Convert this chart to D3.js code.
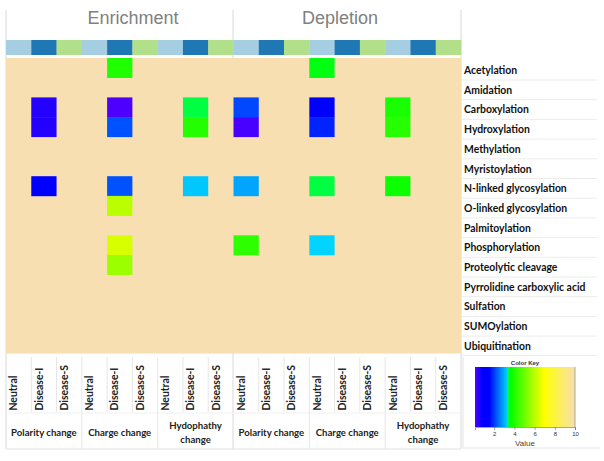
<!DOCTYPE html>
<html><head><meta charset="utf-8">
<script src="https://cdn.jsdelivr.net/npm/d3@7"></script>
<style>body{margin:0;background:#fff}svg{display:block}</style>
</head><body>
<script>
const groups = ["Enrichment", "Depletion"];
const changes = ["Polarity change", "Charge change", "Hydophathy change"];
const classes = ["Neutral", "Disease-I", "Disease-S"];
const ptms = ["Acetylation","Amidation","Carboxylation","Hydroxylation","Methylation","Myristoylation",
  "N-linked glycosylation","O-linked glycosylation","Palmitoylation","Phosphorylation",
  "Proteolytic cleavage","Pyrrolidine carboxylic acid","Sulfation","SUMOylation","Ubiquitination"];
// columns: Polarity(N,DI,DS), Charge(N,DI,DS), Hydropathy(N,DI,DS); null = no value
const enrichment = [
  [null,null,null, null,4.0,null, null,null,null],
  [null,null,null, null,null,null, null,null,null],
  [null,0.5,null, null,0.15,null, null,3.4,null],
  [null,0.5,null, null,2.2,null, null,4.05,null],
  [null,null,null, null,null,null, null,null,null],
  [null,null,null, null,null,null, null,null,null],
  [null,1.0,null, null,2.2,null, null,3.2,null],
  [null,null,null, null,6.0,null, null,null,null],
  [null,null,null, null,null,null, null,null,null],
  [null,null,null, null,6.4,null, null,null,null],
  [null,null,null, null,5.6,null, null,null,null],
  [null,null,null, null,null,null, null,null,null],
  [null,null,null, null,null,null, null,null,null],
  [null,null,null, null,null,null, null,null,null],
  [null,null,null, null,null,null, null,null,null]
];
const depletion = [
  [null,null,null, 3.55,null,null, null,null,null],
  [null,null,null, null,null,null, null,null,null],
  [2.1,null,null, 1.0,null,null, 3.9,null,null],
  [0.2,null,null, 1.8,null,null, 4.1,null,null],
  [null,null,null, null,null,null, null,null,null],
  [null,null,null, null,null,null, null,null,null],
  [2.9,null,null, 3.4,null,null, 3.75,null,null],
  [null,null,null, null,null,null, null,null,null],
  [null,null,null, null,null,null, null,null,null],
  [4.2,null,null, 3.3,null,null, null,null,null],
  [null,null,null, null,null,null, null,null,null],
  [null,null,null, null,null,null, null,null,null],
  [null,null,null, null,null,null, null,null,null],
  [null,null,null, null,null,null, null,null,null],
  [null,null,null, null,null,null, null,null,null]
];
const keyTicks = [2, 4, 6, 8, 10];
const classColors = ["#a6cee3", "#1f78b4", "#b2df8a"];
const colorStops = [0, 0.8, 1.5, 3.3, 3.36, 3.6, 6.9, 10];
const colorRange = ["#6000ff", "#0000ff", "#0000ff", "#00d4ff", "#00ff50", "#00ff00", "#ffff00", "#f7dfb1"];

const W = 604, H = 461;
const svg = d3.select("body").append("svg").attr("width", W).attr("height", H);
const color = d3.scaleLinear().domain(colorStops).range(colorRange).interpolate(d3.interpolateRgb).clamp(true);

const cols = [];
groups.forEach((g, gi) => changes.forEach((c, ci) => classes.forEach((k, ki) => cols.push({g, gi, c, ci, k, ki, id: g + "|" + c + "|" + k}))));
const x = d3.scaleBand().domain(cols.map(d => d.id)).range([6, 461]);
const y = d3.scaleBand().domain(ptms).range([58, 353.5]);
const bw = x.bandwidth();
const grid = "#e6e6e6";
const lab = "Lato, Carlito, sans-serif";

// frame lines
[6, 233, 461].forEach(xx => svg.append("line").attr("x1", xx).attr("x2", xx).attr("y1", 10).attr("y2", 449).attr("stroke", "#d8d8d8"));
svg.append("line").attr("x1", 6).attr("x2", 461).attr("y1", 449).attr("y2", 449).attr("stroke", "#e2e2e2");

// titles
svg.append("text").attr("x", 133).attr("y", 24).attr("text-anchor", "middle").attr("font-family", "Liberation Sans, Arial").attr("font-size", 18).attr("fill", "#808080").text(groups[0]);
svg.append("text").attr("x", 340).attr("y", 24).attr("text-anchor", "middle").attr("font-family", "Liberation Sans, Arial").attr("font-size", 18).attr("fill", "#808080").text(groups[1]);

// header bar
svg.selectAll("rect.hdr").data(cols).join("rect").attr("class", "hdr")
  .attr("x", d => x(d.id)).attr("y", 40).attr("width", bw + 0.3).attr("height", 15)
  .attr("fill", d => classColors[d.ki]);

// background
svg.append("rect").attr("x", 6).attr("y", 58).attr("width", 455).attr("height", y.range()[1] - 58).attr("fill", color(10));

// cells
const cells = [];
[enrichment, depletion].forEach((mat, gi) => mat.forEach((row, ri) => row.forEach((v, j) => {
  if (v !== null) cells.push({col: cols[gi * 9 + j].id, ptm: ptms[ri], v});
})));
svg.selectAll("rect.cell").data(cells).join("rect").attr("class", "cell")
  .attr("x", d => x(d.col)).attr("y", d => y(d.ptm)).attr("width", bw).attr("height", y.bandwidth() + 0.3)
  .attr("fill", d => color(d.v));

// row labels
ptms.forEach((p, i) => {
  if (i > 0) svg.append("line").attr("x1", 461).attr("x2", 597).attr("y1", y(p) + 2.3).attr("y2", y(p) + 2.3).attr("stroke", "#ececec");
  svg.append("text").attr("x", 464).attr("y", y(p) + y.bandwidth() / 2 + 6.2)
    .attr("font-family", lab).attr("font-weight", "bold").attr("font-size", 10.4).attr("fill", "#111").text(p);
});
svg.append("line").attr("x1", 461).attr("x2", 597).attr("y1", 355.5).attr("y2", 355.5).attr("stroke", "#ececec");

// bottom column labels
cols.forEach((d, i) => {
  const cx = x(d.id) + bw / 2;
  if (i % 3 !== 0) svg.append("line").attr("x1", x(d.id)).attr("x2", x(d.id)).attr("y1", 357).attr("y2", 412).attr("stroke", grid);
  else if (d.gi === 0 && i > 0 || d.gi === 1 && i > 9) svg.append("line").attr("x1", x(d.id)).attr("x2", x(d.id)).attr("y1", 357).attr("y2", 449).attr("stroke", grid);
  svg.append("text").attr("transform", `translate(${cx - 1.3},410.5) rotate(-90)`)
    .attr("font-family", lab).attr("font-weight", "bold").attr("font-size", 10.4).attr("fill", "#222").text(d.k);
});
svg.append("line").attr("x1", 6).attr("x2", 461).attr("y1", 413).attr("y2", 413).attr("stroke", "#f0f0f0");

// group labels
groups.forEach((g, gi) => changes.forEach((c, ci) => {
  const first = cols[gi * 9 + ci * 3].id;
  const cx = x(first) + bw * 1.5;
  const words = c === "Hydophathy change" ? ["Hydophathy", "change"] : [c];
  words.forEach((w, wi) => svg.append("text").attr("x", cx).attr("y", words.length === 1 ? 435.5 : 428.5 + wi * 14)
    .attr("text-anchor", "middle").attr("font-family", lab).attr("font-weight", "bold").attr("font-size", 9.6).attr("fill", "#222").text(w));
}));

// color key
const kx = d3.scaleLinear().domain([0.1, 10]).range([475, 575]);
const defs = svg.append("defs");
const grad = defs.append("linearGradient").attr("id", "kg").attr("x1", "0%").attr("x2", "100%");
d3.range(0, 101).forEach(i => {
  const v = 0.1 + i * 9.9 / 100;
  grad.append("stop").attr("offset", i + "%").attr("stop-color", color(v));
});
svg.append("line").attr("x1", 463).attr("x2", 463).attr("y1", 357).attr("y2", 448).attr("stroke", "#e4e4e4");
svg.append("line").attr("x1", 463).attr("x2", 600).attr("y1", 448).attr("y2", 448).attr("stroke", "#e4e4e4");
svg.append("text").attr("x", 525).attr("y", 365).attr("text-anchor", "middle").attr("font-family", "Liberation Sans, Arial").attr("font-weight", "bold").attr("font-size", 6).attr("fill", "#333").text("Color Key");
svg.append("rect").attr("x", 475).attr("y", 367).attr("width", 100).attr("height", 60).attr("fill", "url(#kg)");
svg.append("line").attr("x1", 575).attr("x2", 575).attr("y1", 367).attr("y2", 427).attr("stroke", "#777").attr("stroke-width", 0.6);
const axis = d3.axisBottom(kx).tickValues(keyTicks).tickSize(3).tickFormat(d3.format("d"));
const ag = svg.append("g").attr("transform", "translate(0,427)").call(axis);
ag.select(".domain").attr("stroke", "#666").attr("stroke-width", 0.6);
ag.selectAll(".tick line").attr("stroke", "#666").attr("stroke-width", 0.6);
ag.selectAll("text").attr("font-size", 6).attr("font-family", "Liberation Sans, Arial").attr("fill", "#333").attr("dy", "0.5em");
svg.append("text").attr("x", 525).attr("y", 446).attr("text-anchor", "middle").attr("font-family", "Liberation Sans, Arial").attr("font-size", 8).attr("fill", "#444").text("Value");
</script>
</body></html>
